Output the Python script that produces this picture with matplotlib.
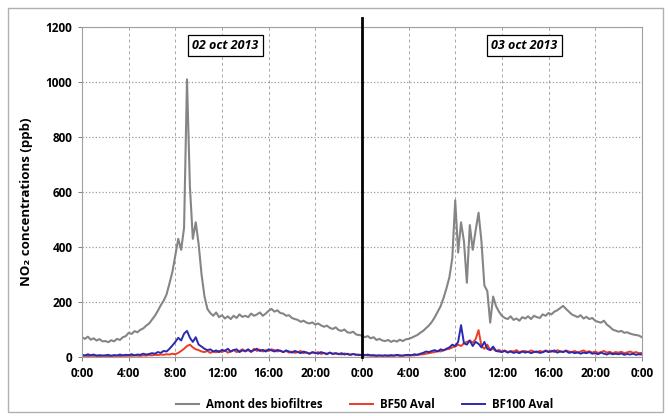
import numpy as np
import matplotlib.pyplot as plt
from matplotlib.patches import Rectangle

# NO2 concentrations upstream / downstream of biofilters, 2-3 Oct 2013
# sampled every 15 min, hours from 02 oct 0:00

hours = np.arange(0, 48.01, 0.25)

amont = [72, 66, 74, 63, 68, 60, 65, 57,
         58, 54, 61, 57, 66, 62, 72, 76,
         88, 84, 94, 90, 99, 104, 114, 122,
         136, 150, 168, 188, 205, 228, 268, 310,
         370, 430, 390, 470, 1010, 620, 430, 490,
         410, 300, 220, 175, 160, 150, 162, 145,
         152, 140, 148, 138, 150, 142, 155, 146,
         150, 145, 158, 150, 155, 162, 150, 158,
         168, 175, 165, 170, 160, 158, 150, 152,
         142, 138, 135, 128, 132, 125, 122, 126,
         118, 122, 115, 110, 114, 106, 102, 108,
         98, 95, 100, 90, 88, 92, 82, 80,
         78, 72, 76, 68, 72, 62, 66, 60,
         58, 62, 55, 60, 56, 63, 58, 64,
         66, 70, 75, 80, 88, 95, 105, 115,
         128, 145, 165, 185, 215, 250, 290, 360,
         570, 380, 490, 420, 270, 480, 390, 460,
         525, 420, 260, 240, 125, 220, 185, 165,
         150, 142, 138, 148, 135, 140, 132, 145,
         140, 148, 138, 150, 145, 142, 155, 150,
         160, 155, 165, 170, 178, 186, 175, 165,
         155, 150, 145, 152, 140, 146, 138, 142,
         132, 128, 125, 132, 118, 110, 100, 96,
         92, 95, 88, 90, 85, 82, 80, 78,
         72]

bf50 = [4, 6, 3, 5, 4, 6, 3, 5,
        4, 3, 5, 4, 6, 3, 5, 4,
        5, 4, 6, 5, 4, 6, 5, 7,
        6, 8, 7, 9, 8, 10, 9, 12,
        10, 15, 22, 30, 40, 45, 35, 28,
        25, 20, 18, 22, 15, 20, 17, 22,
        18, 24, 16, 20, 26, 18, 22, 28,
        20, 25, 18, 30, 22, 27, 20, 25,
        22, 28, 25, 20, 24, 18, 22, 16,
        20, 15, 18, 22, 14, 17, 12, 16,
        14, 18, 11, 15, 12, 16, 10, 13,
        12, 9, 13, 10, 8, 11, 7, 9,
        6, 8, 5, 7, 4, 6, 5, 4,
        5, 6, 4, 5, 6, 4, 5, 6,
        5, 7, 6, 8, 9, 10, 12, 14,
        16, 18, 22, 20, 25, 28, 30, 35,
        38, 45, 40, 50, 55, 60, 52, 65,
        98, 40, 30, 45, 25, 30, 22, 26,
        20, 24, 18, 22, 20, 25, 18, 21,
        22, 18, 24, 20, 17, 22, 19, 24,
        20, 23, 18, 25, 21, 19, 24, 20,
        18, 22, 16, 20, 24, 18, 21, 16,
        20, 15, 18, 22, 16, 19, 14, 18,
        16, 19, 14, 17, 20, 15, 18, 14,
        15]

bf100 = [8, 5, 10, 6, 9, 4, 7, 5,
         6, 8, 4, 7, 5, 9, 6, 8,
         7, 10, 6, 9, 8, 12, 9, 11,
         14, 12, 18, 15, 22, 20, 30, 42,
         55, 70, 60, 85, 95, 70, 55, 72,
         45, 38, 30, 25, 28, 20, 24, 18,
         26, 22, 30, 20, 25, 28, 18, 24,
         22, 28, 20, 25, 30, 22, 26, 20,
         28, 24, 20, 26, 22, 18, 24, 20,
         16, 22, 18, 14, 20, 16, 12, 18,
         15, 12, 18, 14, 10, 16, 12, 14,
         10, 14, 9, 12, 8, 11, 9, 7,
         8, 6, 9, 5, 7, 4, 6, 5,
         6, 4, 7, 5, 8, 6, 5, 7,
         8, 6, 10, 8, 12, 15, 20, 18,
         22, 25, 20, 28, 24, 30, 35, 45,
         40, 55, 116, 50, 45, 60, 40, 55,
         48, 35, 55, 30, 25, 38, 22, 20,
         18, 22, 16, 20, 15, 18, 14, 20,
         16, 19, 14, 18, 20, 15, 17, 22,
         18, 20, 24, 16, 20, 18, 22, 15,
         18, 14, 17, 12, 16, 14, 18, 12,
         14, 10, 16, 12, 9, 14, 10, 12,
         10, 13, 8, 11, 9, 12, 8, 10,
         9]

tick_hours = list(range(0, 49, 4))
tick_labels = ['0:00', '4:00', '8:00', '12:00', '16:00', '20:00',
               '0:00', '4:00', '8:00', '12:00', '16:00', '20:00', '0:00']
days = ['02 oct 2013', '03 oct 2013']
day_label_pos = [(12.3, 1133), (37.9, 1133)]

plt.rcParams['font.family'] = ['Open Sans', 'DejaVu Sans']

fig = plt.figure(figsize=(6.68, 4.16), dpi=100)
ax = fig.add_axes([0.1228, 0.1418, 0.838, 0.793])

# outer frame
fig.patches.append(Rectangle((0.012, 0.01), 0.98, 0.97, transform=fig.transFigure,
                             fill=False, edgecolor='#b0b0b0', lw=1))

ax.plot(hours, amont, color='#858585', lw=1.5, label='Amont des biofiltres')
ax.plot(hours, bf50, color='#ee3b24', lw=1.4, label='BF50 Aval')
ax.plot(hours, bf100, color='#2a2ab0', lw=1.4, label='BF100 Aval')

ax.axvline(24, ymin=0, ymax=1.028, color='black', lw=2, clip_on=False, zorder=5)

ax.set_xlim(0, 48)
ax.set_ylim(0, 1200)
ax.set_yticks(range(0, 1201, 200))
ax.set_xticks(tick_hours)
ax.set_xticklabels(tick_labels)

ax.grid(axis='y', color='#9a9a9a', ls=':', lw=0.9)
ax.grid(axis='x', color='#a8a8a8', ls=(0, (3, 3)), lw=0.7)
for sp in ax.spines.values():
    sp.set_color('#a0a0a0')
    sp.set_linewidth(0.8)

ax.tick_params(axis='both', labelsize=8.5, color='#808080', length=3, width=0.7, pad=4)
for lab in ax.get_xticklabels() + ax.get_yticklabels():
    lab.set_fontweight('bold')

ax.set_ylabel('NO₂ concentrations (ppb)', fontsize=9.5, fontweight='bold')
ax.yaxis.set_label_coords(-0.088, 0.47)

for txt, (x, y) in zip(days, day_label_pos):
    ax.text(x, y, txt, ha='center', va='center', fontsize=9, fontweight='bold',
            fontstyle='italic', zorder=6,
            bbox=dict(boxstyle='square,pad=0.35', facecolor='white', edgecolor='black', lw=0.9))

ax.legend(loc='center', bbox_to_anchor=(0.505, -0.145), ncol=3, frameon=False,
          handlelength=2.0, columnspacing=2.4, handletextpad=0.6,
          prop={'weight': 'bold', 'size': 8.3})

fig.savefig('out.png', dpi=100)
